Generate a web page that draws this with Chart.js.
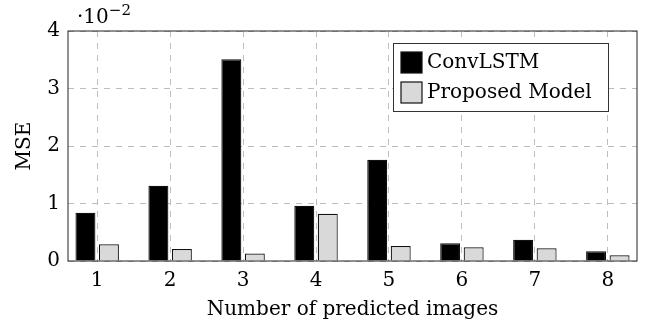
<!DOCTYPE html>
<html>
<head>
<meta charset="utf-8">
<script src="https://cdn.jsdelivr.net/npm/chart.js@4.4.1/dist/chart.umd.min.js"></script>
<style>
  html, body { margin: 0; padding: 0; background: #fff; }
  #wrap { width: 651px; height: 328px; }
</style>
</head>
<body>
<div id="wrap"><canvas id="chart" width="651" height="328"></canvas></div>
<script>
// values (units of 10^-2)
const categories = [1, 2, 3, 4, 5, 6, 7, 8];
const convLSTM = [0.84, 1.31, 3.51, 0.96, 1.76, 0.31, 0.37, 0.17];
const proposed = [0.29, 0.21, 0.13, 0.82, 0.26, 0.24, 0.22, 0.10];
const yTicks = [0, 1, 2, 3, 4];

const serif = "'DejaVu Serif', 'Liberation Serif', serif";
const fontSize = 20;

// frame, exponent label and legend box drawn on the canvas
const extras = {
  id: 'extras',
  afterDraw(chart) {
    const { ctx, chartArea: a } = chart;
    ctx.save();
    ctx.strokeStyle = '#222';
    ctx.lineWidth = 1;
    ctx.strokeRect(a.left, a.top, a.right - a.left, a.bottom - a.top);

    // ·10^-2
    ctx.fillStyle = '#000';
    ctx.textBaseline = 'alphabetic';
    ctx.textAlign = 'left';
    ctx.font = fontSize + 'px ' + serif;
    const base = '\u00b710';
    ctx.fillText(base, a.left + 9, 23);
    const w = ctx.measureText(base).width;
    ctx.font = '15px ' + serif;
    ctx.fillText('\u22122', a.left + 9 + w, 15);

    // legend
    const lx = a.right - 244, ly = a.top + 12, lw = 215, lh = 68;
    ctx.fillStyle = '#fff';
    ctx.fillRect(lx, ly, lw, lh);
    ctx.strokeStyle = '#333';
    ctx.strokeRect(lx + 0.5, ly + 0.5, lw, lh);
    const items = [
      { label: 'ConvLSTM', fill: '#000' },
      { label: 'Proposed Model', fill: '#d9d9d9' }
    ];
    items.forEach((it, i) => {
      const cy = ly + 19 + i * 30;
      ctx.fillStyle = it.fill;
      ctx.fillRect(lx + 8, cy - 10, 21, 21);
      ctx.strokeStyle = '#111';
      ctx.lineWidth = 1.2;
      ctx.strokeRect(lx + 8, cy - 10, 21, 21);
      ctx.fillStyle = '#000';
      ctx.font = fontSize + 'px ' + serif;
      ctx.textBaseline = 'middle';
      ctx.fillText(it.label, lx + 34, cy + 1);
    });
    ctx.restore();
  }
};

new Chart(document.getElementById('chart'), {
  type: 'bar',
  data: {
    datasets: [
      {
        label: 'ConvLSTM',
        data: categories.map((c, i) => ({ x: c, y: convLSTM[i] })),
        backgroundColor: '#000',
        borderColor: '#111',
        borderWidth: 1.2
      },
      {
        label: 'Proposed Model',
        data: categories.map((c, i) => ({ x: c, y: proposed[i] })),
        backgroundColor: '#d9d9d9',
        borderColor: '#111',
        borderWidth: 1.2
      }
    ]
  },
  options: {
    responsive: false,
    animation: false,
    devicePixelRatio: 1,
    categoryPercentage: 0.644,
    barPercentage: 0.85,
    layout: { padding: { left: 0, right: 14, top: 31, bottom: 0 } },
    plugins: {
      legend: { display: false },
      tooltip: { enabled: false }
    },
    scales: {
      x: {
        type: 'linear',
        offset: false,
        min: 0.6,
        max: 8.4,
        afterBuildTicks: (scale) => { scale.ticks = categories.map(v => ({ value: v })); },
        afterFit: (scale) => { scale.height = 67; },
        ticks: {
          color: '#000',
          padding: 8,
          font: { family: serif, size: fontSize },
          callback: (v) => String(v)
        },
        grid: { color: '#bdbdbd', lineWidth: 1, drawTicks: false, offset: false },
        border: { display: false, dash: [6, 6] },
        title: {
          display: true,
          text: 'Number of predicted images',
          color: '#000',
          font: { family: serif, size: fontSize },
          padding: { top: 0, bottom: 6 }
        }
      },
      y: {
        min: 0,
        max: 4,
        afterBuildTicks: (scale) => { scale.ticks = yTicks.map(v => ({ value: v })); },
        afterFit: (scale) => { scale.width = 68; },
        ticks: {
          color: '#000',
          padding: 8,
          font: { family: serif, size: fontSize }
        },
        grid: { color: '#bdbdbd', lineWidth: 1, drawTicks: false },
        border: { display: false, dash: [6, 6] },
        title: {
          display: true,
          text: 'MSE',
          color: '#000',
          font: { family: serif, size: fontSize },
          padding: { top: 13, bottom: 0 }
        }
      }
    }
  },
  plugins: [extras]
});
</script>
</body>
</html>
